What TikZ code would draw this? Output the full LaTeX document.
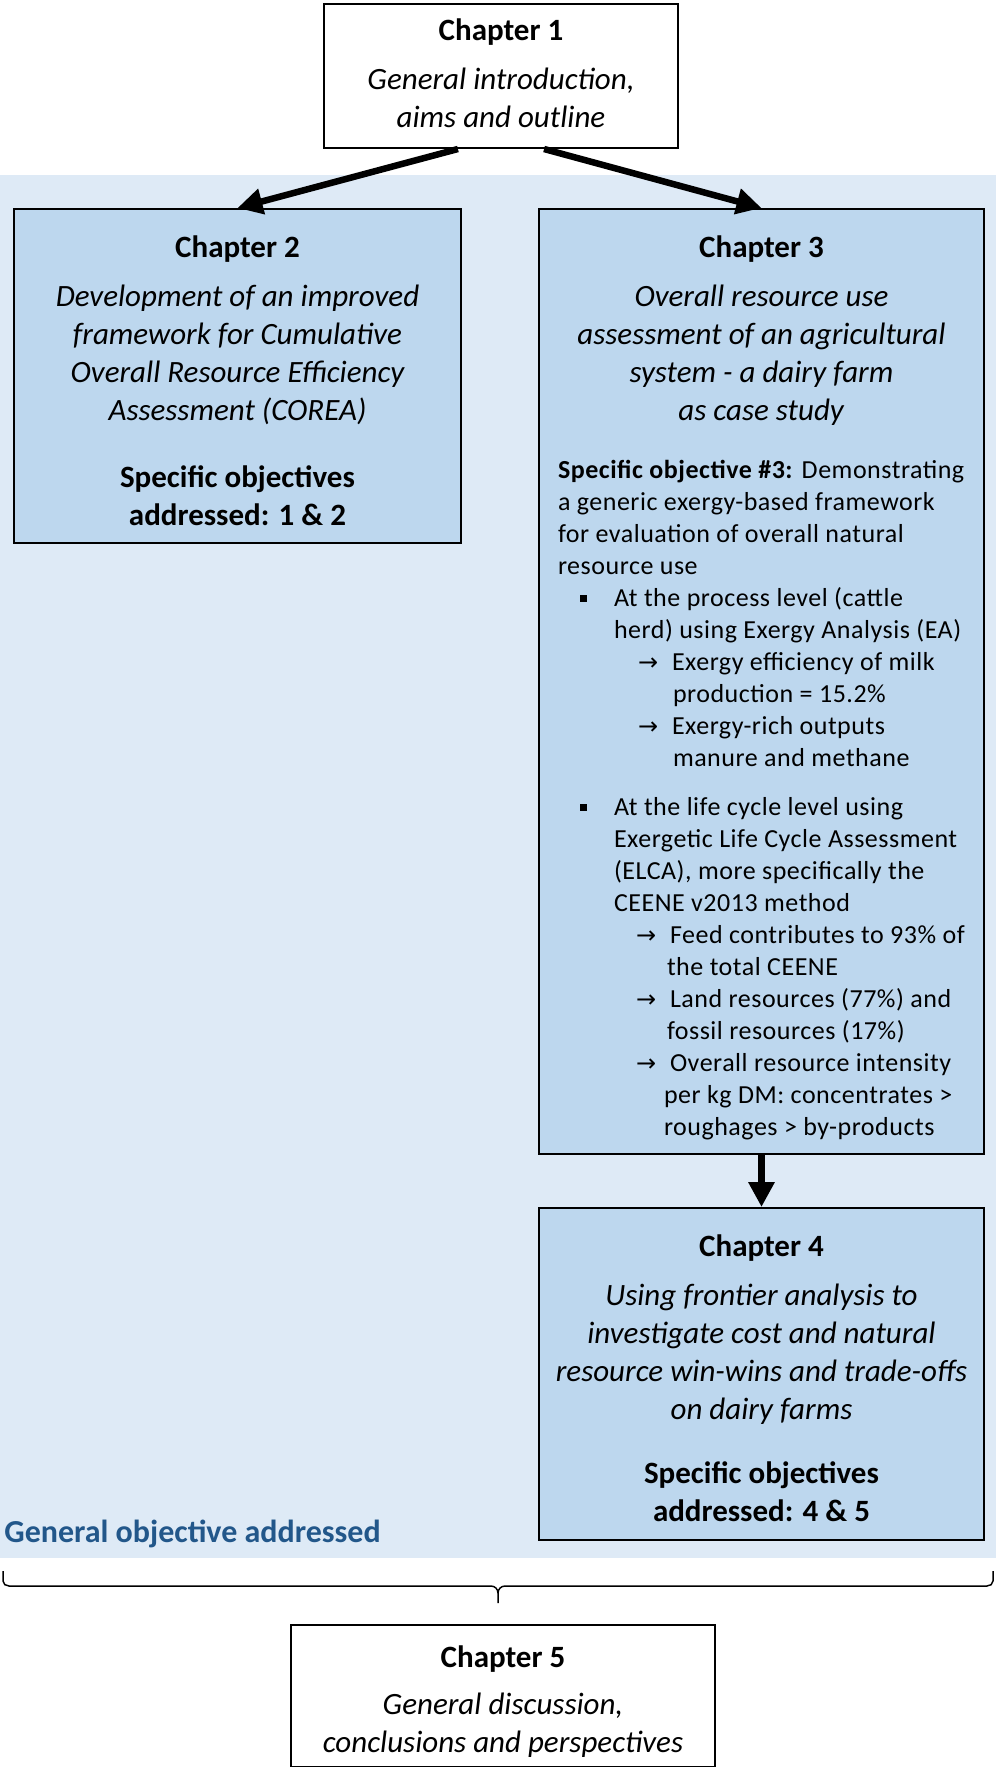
\documentclass[tikz,border=0pt]{standalone}
\usepackage{fontspec}
\setmainfont{Carlito}
\newfontfamily\detailfont[LetterSpace=2]{Carlito}
\newfontfamily\arrowfont{DejaVu Sans}
\usetikzlibrary{arrows.meta,calc}

\definecolor{regionblue}{HTML}{DEEAF6}
\definecolor{boxblue}{HTML}{BDD7EE}
\definecolor{labelblue}{HTML}{22578A}

\newcommand{\mainsize}{\fontsize{15.5}{19}\selectfont}
\newcommand{\detailsize}{\fontsize{13}{16}\selectfont}
% square bullet and arrow markers of the lists in chapter 3
\newcommand{\sqbullet}{\hspace*{11pt}\makebox[17pt][l]{\rule[2.5pt]{3.5pt}{3.5pt}}}
\newcommand{\itemarrow}[1]{\hspace*{#1}\makebox[17pt][l]{{\arrowfont\fontsize{12}{16}\selectfont →}}}

\begin{document}
\begin{tikzpicture}[x=0.5pt,y=-0.5pt,
  chapter/.style={draw=black, line width=1pt, inner sep=0pt, anchor=north west},
  wbox/.style={chapter, fill=white},
  bbox/.style={chapter, fill=boxblue},
  flow/.style={line width=3.25pt, -{Triangle[length=12.5pt,width=12.5pt]}},
  bracket/.style={line width=0.75pt}]

\useasboundingbox (0,0) rectangle (996,1767);

% shaded region of the chapters that address the general objective
\node[fill=regionblue, inner sep=0pt, minimum width=498pt, minimum height=691.5pt,
      anchor=north west] (region) at (0,175) {};
\node[anchor=base west, inner sep=0pt, text=labelblue,
      font=\fontsize{16}{19}\selectfont\bfseries] (goal) at (4,1542)
  {General objective addressed};

% chapter 1
\node[wbox] (ch1) at (323,3) {\begin{minipage}[t][72pt][t]{177pt}\centering\mainsize
  \rule{0pt}{18pt}\textbf{Chapter 1}\\[5.5pt]
  \textit{General introduction,\\ aims and outline}
\end{minipage}};

% chapter 2
\node[bbox] (ch2) at (13,208) {\begin{minipage}[t][167pt][t]{223.5pt}\centering\mainsize
  \rule{0pt}{24pt}\textbf{Chapter 2}\\[5.5pt]
  \textit{Development of an improved\\ framework for Cumulative\\
  Overall Resource Efficiency\\ Assessment (COREA)}\\[14.5pt]
  \textbf{Specific objectives\\ addressed: 1 \& 2}
\end{minipage}};

% chapter 3
\node[bbox] (ch3) at (538,208) {\begin{minipage}[t][472.5pt][t]{222.5pt}\centering\mainsize
  \rule{0pt}{24pt}\textbf{Chapter 3}\\[5.5pt]
  \textit{Overall resource use\\ assessment of an agricultural\\
  system - a dairy farm\\ as case study}\par
  \vspace{13.3pt}
  {\detailfont\detailsize\raggedright\leftskip=9.5pt
  \textbf{Specific objective \#3:} Demonstrating\\
  a generic exergy-based framework\\
  for evaluation of overall natural\\
  resource use\\
  \sqbullet At the process level (cattle\\
  \hspace*{28pt}herd) using Exergy Analysis (EA)\\
  \itemarrow{40pt}Exergy efficiency of milk\\
  \hspace*{57.5pt}production = 15.2\%\\
  \itemarrow{40pt}Exergy-rich outputs\\
  \hspace*{57.5pt}manure and methane\\[8.5pt]
  \sqbullet At the life cycle level using\\
  \hspace*{28pt}Exergetic Life Cycle Assessment\\
  \hspace*{28pt}(ELCA), more specifically the\\
  \hspace*{28pt}CEENE v2013 method\\
  \itemarrow{39pt}Feed contributes to 93\% of\\
  \hspace*{54.5pt}the total CEENE\\
  \itemarrow{39pt}Land resources (77\%) and\\
  \hspace*{54.5pt}fossil resources (17\%)\\
  \itemarrow{39pt}Overall resource intensity\\
  \hspace*{53pt}per kg DM: concentrates >\\
  \hspace*{53pt}roughages > by-products\par}
\end{minipage}};

% chapter 4
\node[bbox] (ch4) at (538,1207) {\begin{minipage}[t][166pt][t]{222.5pt}\centering\mainsize
  \rule{0pt}{24pt}\textbf{Chapter 4}\\[5.5pt]
  \textit{Using frontier analysis to\\ investigate cost and natural\\
  resource win-wins and trade-offs\\ on dairy farms}\\[13pt]
  \textbf{Specific objectives\\ addressed: 4 \& 5}
\end{minipage}};

% chapter 5
\node[wbox] (ch5) at (290,1624) {\begin{minipage}[t][70.75pt][t]{212pt}\centering\mainsize
  \rule{0pt}{21.3pt}\textbf{Chapter 5}\\[4.5pt]
  \textit{General discussion,\\ conclusions and perspectives}
\end{minipage}};

% reading order of the chapters
\draw[flow] ($(ch1.south west)!0.379!(ch1.south east)$) -- (ch2.north);
\draw[flow] ($(ch1.south west)!0.621!(ch1.south east)$) -- (ch3.north);
\draw[flow] (ch3.south) -- (ch4.north);

% brace gathering chapters 2-4 into chapter 5
\coordinate (braceL) at (3,1571);
\coordinate (braceR) at (993,1571);
\coordinate (braceM) at (498,1603);
\draw[bracket] (braceL) -- (3,1581) to[out=-90,in=180] (9,1586) -- (491,1586)
  to[out=0,in=90] (braceM |- 0,1593) -- (braceM);
\draw[bracket] (braceR) -- (993,1581) to[out=-90,in=0] (987,1586) -- (505,1586)
  to[out=180,in=90] (braceM |- 0,1593);
\end{tikzpicture}
\end{document}
